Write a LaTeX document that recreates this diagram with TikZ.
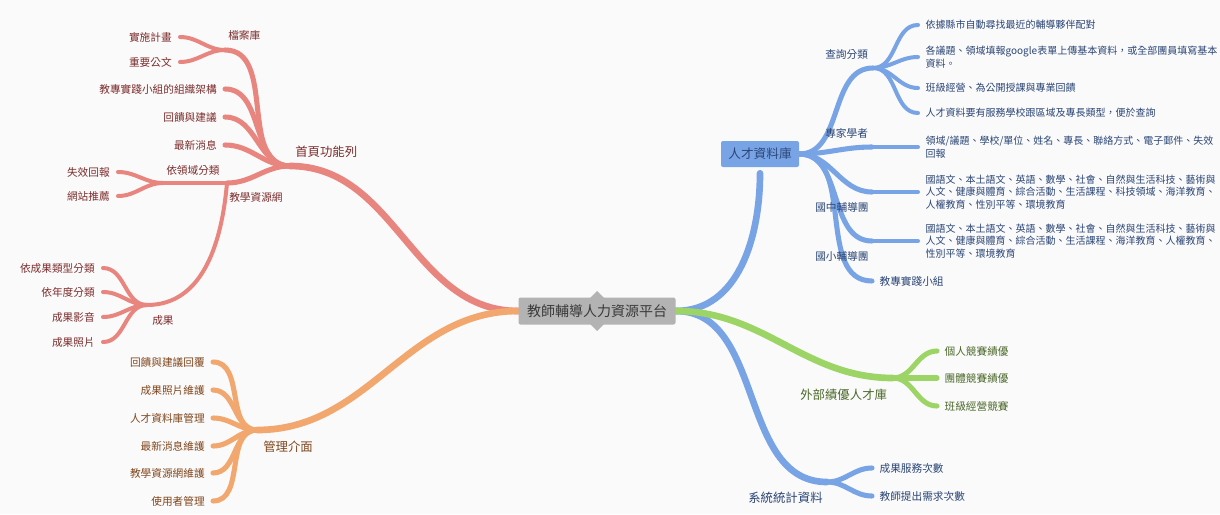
\documentclass[tikz,border=0pt]{standalone}
\usepackage{fontspec}
\setmainfont{Noto Sans CJK TC}
\usepackage{xcolor}
\usepackage{tikz}
\usetikzlibrary{positioning,calc}
\pgfdeclarelayer{bg}
\pgfdeclarelayer{lines}
\pgfsetlayers{bg,lines,main}

\definecolor{canvas}{HTML}{FAFAFA}
\definecolor{rootgrey}{HTML}{B3B3B3}
\definecolor{roottext}{HTML}{3A3A3A}
\definecolor{homered}{HTML}{E9857F}
\definecolor{hometext}{HTML}{7D2C2C}
\definecolor{adminorange}{HTML}{F1A76D}
\definecolor{admintext}{HTML}{80461C}
\definecolor{talentblue}{HTML}{78A4E6}
\definecolor{talenttext}{HTML}{2B4677}
\definecolor{extgreen}{HTML}{9CD466}
\definecolor{exttext}{HTML}{4D6A2C}

\begin{document}
\begin{tikzpicture}[
			x = 0.75pt, y = -0.75pt,
			every node/.style = {inner sep = 0pt, font = \fontsize{8}{9.4}\selectfont},
			rootbox/.style = {fill = rootgrey, text = roottext, rounded corners = 1.5pt,
				minimum width = 117.75pt, minimum height = 20.25pt,
				font = \fontsize{10.5}{12}\selectfont},
			talentbox/.style = {fill = talentblue, text = talenttext, rounded corners = 1.5pt,
				minimum width = 58.5pt, minimum height = 19.5pt,
				font = \fontsize{9.5}{11}\selectfont},
			topic/.style = {anchor = west, font = \fontsize{9.3}{11}\selectfont},
			subtopic/.style = {anchor = west},
			leafl/.style = {anchor = east, inner xsep = 6pt},
			leafr/.style = {anchor = west, inner xsep = 5.5pt, align = left},
			note/.style = {leafr, font = \fontsize{7.5}{9.4}\selectfont},
			trunk/.style = {line width = 5pt, line cap = round},
			bough/.style = {line width = 3.8pt, line cap = round},
			twig/.style = {line width = 3pt, line cap = round},
			tol/.style = {out = 180, in = 0},
			tor/.style = {out = 0, in = 180}
			]

			\useasboundingbox (0,0) rectangle (1220,514);
			\begin{pgfonlayer}{bg}
				\fill[canvas] (0,0) rectangle (1220,514);
			\end{pgfonlayer}

			% centre
			\node[rootbox] (root) at (597,311) {教師輔導人力資源平台};
			\begin{pgfonlayer}{bg}
				\fill[rootgrey] ($(root.center)+(0,-20)$) -- ($(root.center)+(20,0)$) -- ($(root.center)+(0,20)$) -- ($(root.center)+(-20,0)$) -- cycle;
			\end{pgfonlayer}

			% 首頁功能列
			\coordinate (j-home) at (290,166);
			\coordinate (j-file) at (225,50);
			\coordinate (j-web) at (227,183);
			\coordinate (j-field) at (163,183);
			\coordinate (j-result) at (147,305);
			\node[topic, text=hometext] (home) at (295,152) {首頁功能列};
			\node[subtopic, text=hometext] (file) at (228,35) {檔案庫};
			\node[subtopic, text=hometext] (web) at (229,197) {教學資源網};
			\node[subtopic, text=hometext] (field) at (166,170) {依領域分類};
			\node[subtopic, text=hometext] (result) at (152,320) {成果};
			\node[leafl, text=hometext] (plan) at (180,37) {實施計畫};
			\node[leafl, text=hometext] (official) at (180,62) {重要公文};
			\node[leafl, text=hometext] (team) at (225,89) {教專實踐小組的組織架構};
			\node[leafl, text=hometext] (feedback) at (225,117) {回饋與建議};
			\node[leafl, text=hometext] (news) at (225,145) {最新消息};
			\node[leafl, text=hometext] (broken) at (118,172) {失效回報};
			\node[leafl, text=hometext] (sites) at (118,196) {網站推薦};
			\node[leafl, text=hometext] (bytype) at (103,268) {依成果類型分類};
			\node[leafl, text=hometext] (byyear) at (103,292) {依年度分類};
			\node[leafl, text=hometext] (video) at (103,317) {成果影音};
			\node[leafl, text=hometext] (photo) at (103,342) {成果照片};

			% 管理介面
			\coordinate (j-admin) at (257,430);
			\node[topic, text=admintext] (admin) at (263,447) {管理介面};
			\node[leafl, text=admintext] (reply) at (213,362) {回饋與建議回覆};
			\node[leafl, text=admintext] (photokeep) at (213,390) {成果照片維護};
			\node[leafl, text=admintext] (talentkeep) at (213,418) {人才資料庫管理};
			\node[leafl, text=admintext] (newskeep) at (213,446) {最新消息維護};
			\node[leafl, text=admintext] (webkeep) at (213,473) {教學資源網維護};
			\node[leafl, text=admintext] (users) at (213,501) {使用者管理};

			% 人才資料庫
			\node[talentbox] (talent) at (760,154) {人才資料庫};
			\coordinate (talent-in) at ($(talent.south)+(0,6)$);
			\coordinate (j-query) at (873,68);
			\coordinate (j-expert) at (872,147);
			\coordinate (j-junior) at (872,192);
			\coordinate (j-primary) at (872,241);
			\node[subtopic, text=talenttext] (query) at (825,54) {查詢分類};
			\node[subtopic, text=talenttext] (expert) at (825,133) {專家學者};
			\node[subtopic, text=talenttext] (junior) at (815,207) {國中輔導團};
			\node[subtopic, text=talenttext] (primary) at (815,256) {國小輔導團};
			\node[note, text=talenttext] (match) at (918,25) {依據縣市自動尋找最近的輔導夥伴配對};
			\node[note, text=talenttext] (upload) at (918,57) {各議題、領域填報google表單上傳基本資料，或全部團員填寫基本\\資料。};
			\node[note, text=talenttext] (classes) at (918,88) {班級經營、為公開授課與專業回饋};
			\node[note, text=talenttext] (tags) at (918,113) {人才資料要有服務學校跟區域及專長類型，便於查詢};
			\node[note, text=talenttext] (profile) at (918,147) {領域/議題、學校/單位、姓名、專長、聯絡方式、電子郵件、失效\\回報};
			\node[note, text=talenttext] (juniorlist) at (918,192) {國語文、本土語文、英語、數學、社會、自然與生活科技、藝術與\\人文、健康與體育、綜合活動、生活課程、科技領域、海洋教育、\\人權教育、性別平等、環境教育};
			\node[note, text=talenttext] (primarylist) at (918,241) {國語文、本土語文、英語、數學、社會、自然與生活科技、藝術與\\人文、健康與體育、綜合活動、生活課程、海洋教育、人權教育、\\性別平等、環境教育};
			\node[leafr, text=talenttext] (group) at (872,281) {教專實踐小組};

			% 外部績優人才庫
			\coordinate (j-ext) at (893,378);
			\node[topic, text=exttext] (ext) at (800,395) {外部績優人才庫};
			\node[leafr, text=exttext] (solo) at (937,351) {個人競賽績優};
			\node[leafr, text=exttext] (crew) at (937,378) {團體競賽績優};
			\node[leafr, text=exttext] (contest) at (937,406) {班級經營競賽};

			% 系統統計資料
			\coordinate (j-stat) at (827,482);
			\node[topic, text=talenttext] (stat) at (748,498) {系統統計資料};
			\node[leafr, text=talenttext] (served) at (872,468) {成果服務次數};
			\node[leafr, text=talenttext] (asked) at (872,496) {教師提出需求次數};

			\begin{pgfonlayer}{lines}
				% red
				\draw[trunk, homered] (root.west) to[tol] (j-home);
				\draw[bough, homered] (j-home) to[tol] (j-file);
				\draw[bough, homered] (j-home) to[tol] (team.east);
				\draw[bough, homered] (j-home) to[tol] (feedback.east);
				\draw[bough, homered] (j-home) to[tol] (news.east);
				\draw[bough, homered] (j-home) to[tol] (j-web);
				\draw[twig, homered] (j-file) to[tol] (plan.east);
				\draw[twig, homered] (j-file) to[tol] (official.east);
				\draw[twig, homered] (j-web) -- (j-field);
				\draw[twig, homered] (j-web) to[out=-95, in=0] (j-result);
				\draw[twig, homered] (j-field) to[tol] (broken.east);
				\draw[twig, homered] (j-field) to[tol] (sites.east);
				\foreach \leaf in {bytype, byyear, video, photo}
					\draw[twig, homered] (j-result) to[tol] (\leaf.east);
				% orange
				\draw[trunk, adminorange] (root.west) to[tol] (j-admin);
				\foreach \leaf in {reply, photokeep, talentkeep, newskeep, webkeep, users}
					\draw[bough, adminorange] (j-admin) to[tol] (\leaf.east);
				% blue
				\draw[trunk, talentblue] (root.east) to[out=0, in=-90] (talent-in);
				\foreach \jct in {j-query, j-expert, j-junior, j-primary}
					\draw[bough, talentblue] (talent.east) to[tor] (\jct);
				\draw[bough, talentblue] (talent.east) to[tor] (group.west);
				\foreach \leaf in {match, upload, classes, tags}
					\draw[twig, talentblue] (j-query) to[tor] (\leaf.west);
				\draw[twig, talentblue] (j-expert) -- (profile.west);
				\draw[twig, talentblue] (j-junior) -- (juniorlist.west);
				\draw[twig, talentblue] (j-primary) -- (primarylist.west);
				\draw[trunk, talentblue] (root.east) to[tor] (j-stat);
				\draw[bough, talentblue] (j-stat) to[tor] (served.west);
				\draw[bough, talentblue] (j-stat) to[tor] (asked.west);
				% green
				\draw[trunk, extgreen] (root.east) to[tor] (j-ext);
				\foreach \leaf in {solo, crew, contest}
					\draw[bough, extgreen] (j-ext) to[tor] (\leaf.west);
			\end{pgfonlayer}

		\end{tikzpicture}
\end{document}
